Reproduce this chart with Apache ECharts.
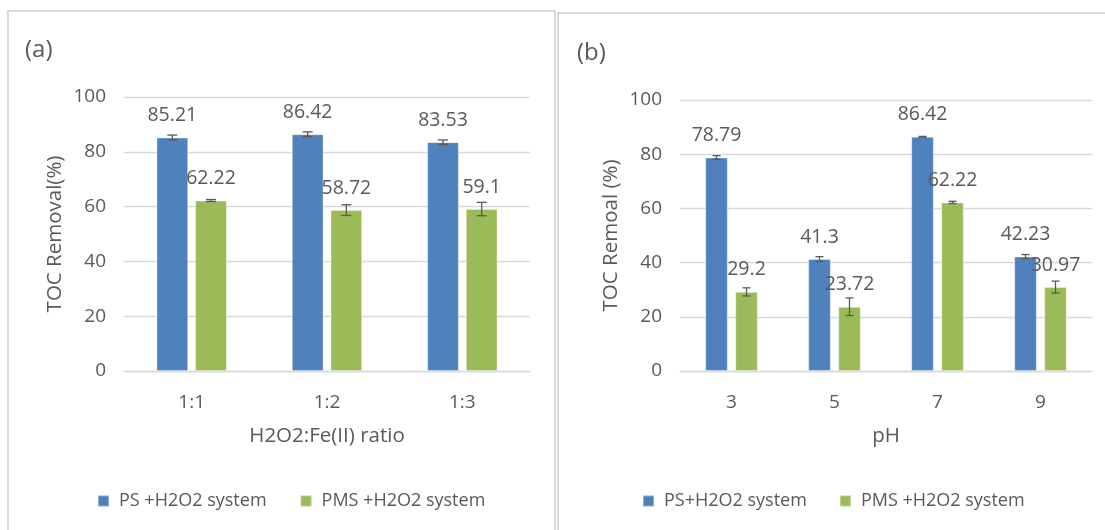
<!DOCTYPE html>
<html>
<head>
<meta charset="utf-8">
<script src="https://cdn.jsdelivr.net/npm/echarts@6/dist/echarts.min.js"></script>
<style>
html,body{margin:0;padding:0;background:#fff;}
#chart{width:1105px;height:530px;}
</style>
</head>
<body>
<div id="chart"></div>
<script>
// ---- Data ----
const ratioCategories = ['1:1', '1:2', '1:3'];
const psA = [85.21, 86.42, 83.53];
const psAErr = [0.9, 0.85, 0.8];
const pmsA = [62.22, 58.72, 59.1];
const pmsAErr = [0.35, 1.95, 2.45];

const phCategories = ['3', '5', '7', '9'];
const psB = [78.79, 41.3, 86.42, 42.23];
const psBErr = [0.67, 0.9, 0.15, 0.75];
const pmsB = [29.2, 23.72, 62.22, 30.97];
const pmsBErr = [1.5, 3.25, 0.4, 2.2];

const yTicks = [0, 20, 40, 60, 80, 100];

// ---- Style ----
const FONT = 'Open Sans';
const TXT = '#595959';
const GRID = '#D9D9D9';
const BLUE = '#4F81BD';
const GREEN = '#9BBB59';

const gapA = 0.22, catGapA = 0.48;
const gapB = 0.33, catGapB = 0.49;

function errSeries(name, xIdx, values, errs, side, gap, catGap, capW) {
  return {
    type: 'custom',
    name: name + '_err',
    xAxisIndex: xIdx, yAxisIndex: xIdx,
    z: 5,
    silent: true,
    data: values.map((v, i) => [i, v, errs[i]]),
    renderItem: function (params, api) {
      const i = api.value(0), v = api.value(1), e = api.value(2);
      const band = api.size([1, 0])[0];
      const total = band * (1 - catGap);
      const bw = total / (2 + gap);
      const off = side * (bw + bw * gap) / 2;
      const hi = api.coord([i, v + e]);
      const lo = api.coord([i, v - e]);
      const x = hi[0] + off;
      const st = { stroke: '#595959', lineWidth: 1.3 };
      return {
        type: 'group',
        children: [
          { type: 'line', shape: { x1: x, y1: hi[1], x2: x, y2: lo[1] }, style: st },
          { type: 'line', shape: { x1: x - capW / 2, y1: hi[1], x2: x + capW / 2, y2: hi[1] }, style: st },
          { type: 'line', shape: { x1: x - capW / 2, y1: lo[1], x2: x + capW / 2, y2: lo[1] }, style: st }
        ]
      };
    }
  };
}

function barSeries(name, idx, data, color, gap, catGap) {
  return {
    type: 'bar',
    name: name,
    xAxisIndex: idx, yAxisIndex: idx,
    data: data,
    barGap: (gap * 100) + '%',
    barCategoryGap: (catGap * 100) + '%',
    itemStyle: { color: color, borderColor: 'rgba(255,255,255,0.35)', borderWidth: 1 },
    label: {
      show: true, position: 'top', distance: 12,
      color: TXT, fontFamily: FONT, fontSize: 19.5
    },
    z: 3
  };
}

function yAxis(idx, name, gap) {
  return {
    type: 'value', gridIndex: idx, min: 0, max: 100, interval: 20,
    name: name, nameLocation: 'middle', nameGap: gap, nameRotate: 90,
    nameTextStyle: { color: TXT, fontFamily: FONT, fontSize: 20.5 },
    axisLine: { show: false }, axisTick: { show: false },
    axisLabel: { color: TXT, fontFamily: FONT, fontSize: 19, margin: 18,
      formatter: v => yTicks.includes(v) ? String(v) : '' },
    splitLine: { lineStyle: { color: GRID, width: 1.3 } }
  };
}

function xAxis(idx, cats, name, gap) {
  return {
    type: 'category', gridIndex: idx, data: cats,
    name: name, nameLocation: 'middle', nameGap: gap,
    nameTextStyle: { color: TXT, fontFamily: FONT, fontSize: 20.5 },
    axisLine: { lineStyle: { color: GRID, width: 1.3 } },
    axisTick: { show: false },
    axisLabel: { color: TXT, fontFamily: FONT, fontSize: 19, margin: 22 }
  };
}

const legendText = { color: TXT, fontFamily: FONT, fontSize: 18, padding: [0, 0, 0, 5] };

const chart = echarts.init(document.getElementById('chart'), null, { renderer: 'canvas' });
chart.setOption({
  backgroundColor: '#fff',
  animation: false,
  graphic: [
    { type: 'rect', shape: { x: 8, y: 11, width: 547, height: 530 }, style: { fill: 'none', stroke: '#D9D9D9', lineWidth: 2 }, z: -1 },
    { type: 'rect', shape: { x: 558, y: 13, width: 560, height: 530 }, style: { fill: 'none', stroke: '#D9D9D9', lineWidth: 2 }, z: -1 },
    { type: 'text', x: 25, y: 50, style: { text: '(a)', fill: TXT, font: '24px "Open Sans"', textVerticalAlign: 'middle' } },
    { type: 'text', x: 577, y: 53, style: { text: '(b)', fill: TXT, font: '24px "Open Sans"', textVerticalAlign: 'middle' } }
  ],
  legend: [
    {
      left: 97, top: 492, padding: 0, itemWidth: 11, itemHeight: 11, itemGap: 33,
      icon: 'rect', textStyle: legendText,
      data: ['PS +H2O2 system', 'PMS +H2O2 system']
    },
    {
      left: 642, top: 492, padding: 0, itemWidth: 11, itemHeight: 11, itemGap: 32,
      icon: 'rect', textStyle: legendText,
      data: ['PS+H2O2 system', 'PMS +H2O2 system ']
    }
  ],
  grid: [
    { left: 124, width: 406, top: 97, height: 274 },
    { left: 680, width: 412, top: 100, height: 271 }
  ],
  xAxis: [
    xAxis(0, ratioCategories, 'H2O2:Fe(II) ratio', 55),
    xAxis(1, phCategories, 'pH', 55)
  ],
  yAxis: [
    yAxis(0, 'TOC Removal(%)', 58),
    yAxis(1, 'TOC Remoal (%)', 58)
  ],
  series: [
    barSeries('PS +H2O2 system', 0, psA, BLUE, gapA, catGapA),
    barSeries('PMS +H2O2 system', 0, pmsA, GREEN, gapA, catGapA),
    errSeries('PS +H2O2 system', 0, psA, psAErr, -1, gapA, catGapA, 10),
    errSeries('PMS +H2O2 system', 0, pmsA, pmsAErr, 1, gapA, catGapA, 10),
    barSeries('PS+H2O2 system', 1, psB, BLUE, gapB, catGapB),
    barSeries('PMS +H2O2 system ', 1, pmsB, GREEN, gapB, catGapB),
    errSeries('PS+H2O2 system', 1, psB, psBErr, -1, gapB, catGapB, 8),
    errSeries('PMS +H2O2 system ', 1, pmsB, pmsBErr, 1, gapB, catGapB, 8)
  ]
});
</script>
</body>
</html>
